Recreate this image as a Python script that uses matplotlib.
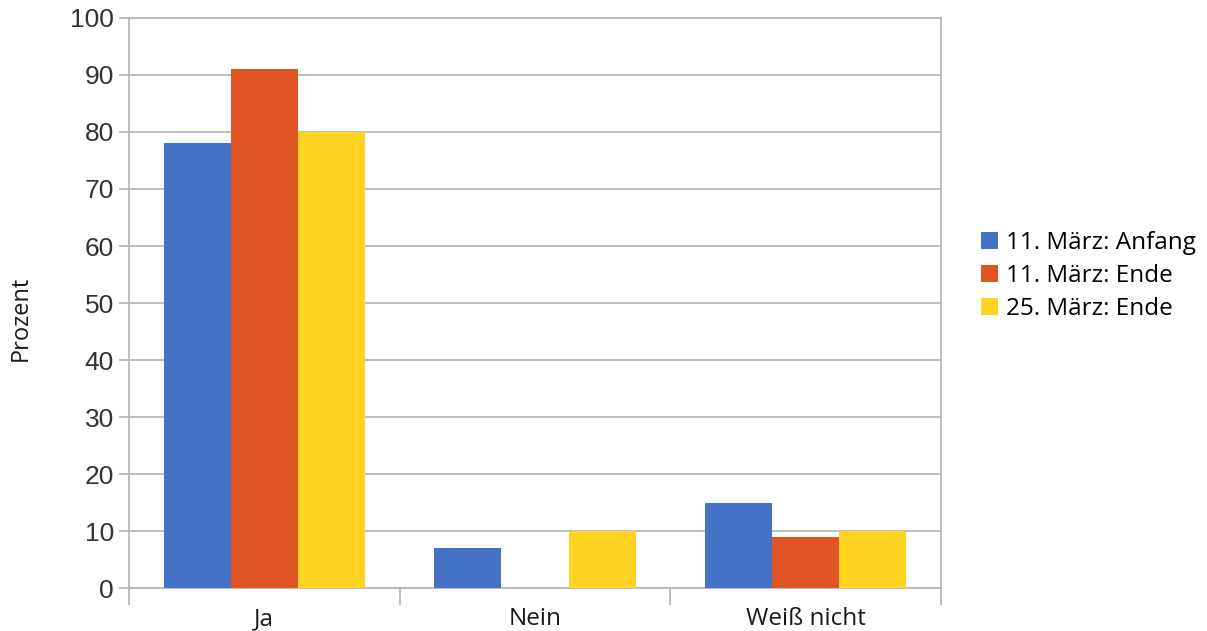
import matplotlib
matplotlib.use("Agg")
import matplotlib.pyplot as plt
import numpy as np

categories = ["Ja", "Nein", "Weiß nicht"]
series_names = ["11. März: Anfang", "11. März: Ende", "25. März: Ende"]
anfang_11 = [78, 7, 15]
ende_11 = [91, 0, 9]
ende_25 = [80, 10, 10]
colors = ["#4472c4", "#e15425", "#ffd320"]
yticks = list(range(0, 101, 10))

fig = plt.figure(figsize=(12.07, 6.31), dpi=100)
ax = fig.add_axes([0.1069, 0.0681, 0.6727, 0.9034])

x = np.arange(len(categories))
w = 0.248
for i, (vals, name, c) in enumerate(zip([anfang_11, ende_11, ende_25], series_names, colors)):
    ax.bar(x + (i - 1) * w, vals, width=w, color=c, label=name, zorder=3)

ax.set_xlim(-0.5, len(categories) - 0.5)
ax.set_ylim(0, 100)
ax.set_yticks(yticks)
ax.set_yticklabels([str(t) for t in yticks], fontfamily="Liberation Sans", fontsize=19, color="#333333")
ax.yaxis.grid(True, color="#b3b3b3", linewidth=1.2, zorder=0)
ax.tick_params(axis="y", length=7, color="#b3b3b3", width=1.2, pad=4)

ax.set_xticks(x)
ax.set_xticklabels(categories, fontfamily="Open Sans", fontsize=17.5, color="#1a1a1a")
ax.tick_params(axis="x", which="major", length=0, pad=14)
ax.set_xticks(np.arange(-0.5, len(categories), 1.0), minor=True)
ax.tick_params(axis="x", which="minor", length=12, color="#b3b3b3", width=1.2)

for s in ax.spines.values():
    s.set_color("#b3b3b3")
    s.set_linewidth(1.2)

fig.text(0.0175, 0.496, "Prozent", rotation=90, ha="center", va="center",
         fontfamily="Open Sans", fontsize=17, color="#1a1a1a")

leg = ax.legend(loc="center left", bbox_to_anchor=(1.022, 0.548), frameon=False,
                prop={"family": "Open Sans", "size": 17.5}, handlelength=0.7,
                handleheight=0.7, handletextpad=0.35, labelspacing=0.37)

fig.savefig("out.png", dpi=100)
